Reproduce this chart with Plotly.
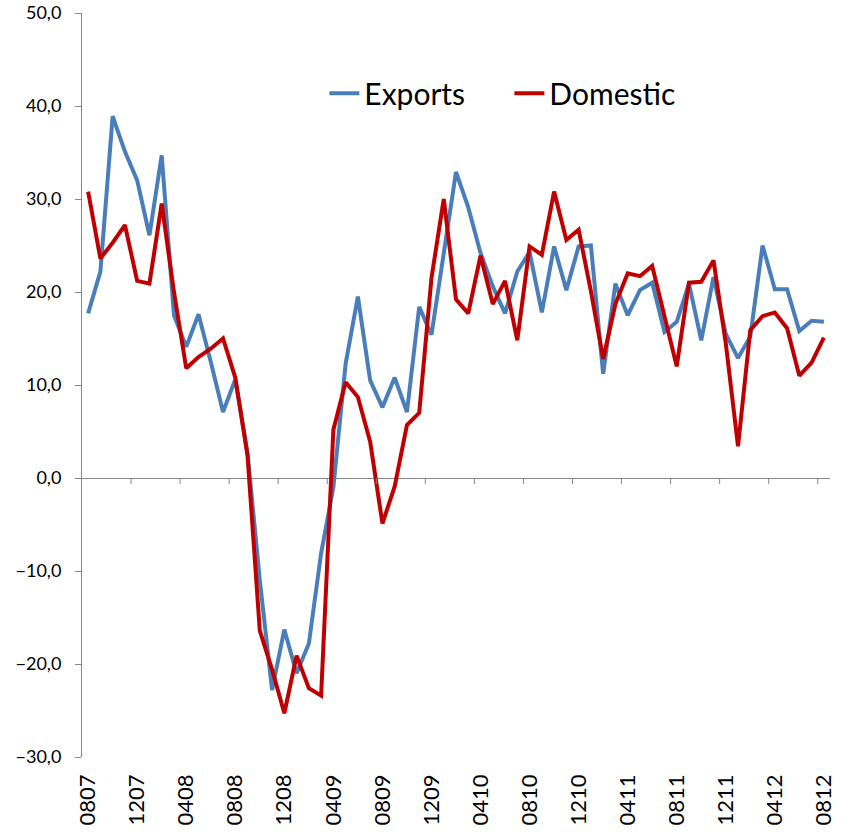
import plotly.graph_objects as go
import pandas as pd

# Monthly categories Aug 2007 .. Aug 2012 (MMYY)
months = [d.strftime("%m%y") for d in pd.date_range("2007-08-01", "2012-08-01", freq="MS")]

exports = [17.7, 22.2, 38.9, 35.1, 32.0, 26.1, 34.7, 17.5, 14.1, 17.6,
           12.5, 7.1, 10.6, 2.7, -11.0, -22.8, -16.3, -21.0, -17.8, -8.1,
           -1.0, 12.3, 19.5, 10.5, 7.6, 10.8, 7.1, 18.4, 15.4, 24.2,
           32.9, 29.1, 24.2, 20.6, 17.7, 22.2, 24.3, 17.8, 24.9, 20.2,
           24.9, 25.0, 11.2, 20.9, 17.5, 20.2, 21.0, 15.7, 16.8, 20.9,
           14.8, 21.6, 15.5, 12.9, 15.2, 25.0, 20.3, 20.3, 15.8, 16.9,
           16.8]

domestic = [30.8, 23.6, 25.3, 27.2, 21.2, 20.9, 29.5, 20.0, 11.8, 13.0,
            13.9, 15.0, 10.8, 2.4, -16.4, -20.6, -25.3, -19.1, -22.6, -23.4,
            5.2, 10.3, 8.7, 3.9, -4.9, -0.9, 5.7, 7.0, 21.5, 30.0,
            19.2, 17.7, 23.9, 18.7, 21.2, 14.8, 24.9, 24.0, 30.8, 25.6,
            26.7, 20.1, 12.8, 18.7, 22.0, 21.7, 22.8, 17.3, 12.0, 21.0,
            21.1, 23.4, 14.5, 3.4, 15.9, 17.4, 17.8, 16.1, 11.0, 12.4,
            15.1]

tick_step = 4
tick_idx = list(range(0, len(months), tick_step))
tick_labels = [months[i] for i in tick_idx]

idx = list(range(len(months)))
FONT = "Lato"

fig = go.Figure()
fig.add_trace(go.Scatter(x=idx, y=exports, mode="lines", name="Exports",
                         line=dict(color="#4A7EBB", width=4)))
fig.add_trace(go.Scatter(x=idx, y=domestic, mode="lines", name="Domestic",
                         line=dict(color="#C00000", width=4)))

# category-boundary tick marks on the zero line
shapes = []
for i in tick_idx[1:]:
    shapes.append(dict(type="line", xref="x", yref="y", x0=i - 0.5, x1=i - 0.5,
                       ysizemode="pixel", yanchor=0, y0=0, y1=-6,
                       line=dict(color="#868686", width=1)))

fig.update_layout(
    width=856, height=834,
    margin=dict(l=82, r=26, t=13, b=77, autoexpand=False),
    paper_bgcolor="white", plot_bgcolor="white",
    separators=", ",
    font=dict(family=FONT, color="#000000"),
    showlegend=True,
    legend=dict(orientation="h", x=0.324, y=0.892, xanchor="left", yanchor="middle",
                font=dict(size=30, family=FONT, color="#000000"),
                bgcolor="rgba(0,0,0,0)", entrywidth=140),
    shapes=shapes,
    xaxis=dict(range=[-0.5, len(months) - 0.5], tickmode="array", tickvals=tick_idx,
               ticktext=tick_labels, tickangle=-90, ticks="", showline=False,
               showgrid=False, zeroline=False, tickfont=dict(size=22, family=FONT),
               ticklabelstandoff=12, automargin=False),
    yaxis=dict(range=[-30, 50], tickmode="linear", tick0=-30, dtick=10, tickformat=".1f",
               showline=True, linecolor="#868686", linewidth=1,
               ticks="outside", ticklen=6, tickcolor="#868686",
               showgrid=False, zeroline=True, zerolinecolor="#868686", zerolinewidth=1,
               tickfont=dict(size=18, family=FONT), ticklabelstandoff=10, automargin=False),
)

fig.write_html("out.html", config={"displayModeBar": False},
               post_script="document.body.style.margin='0';document.body.style.overflow='hidden';")
